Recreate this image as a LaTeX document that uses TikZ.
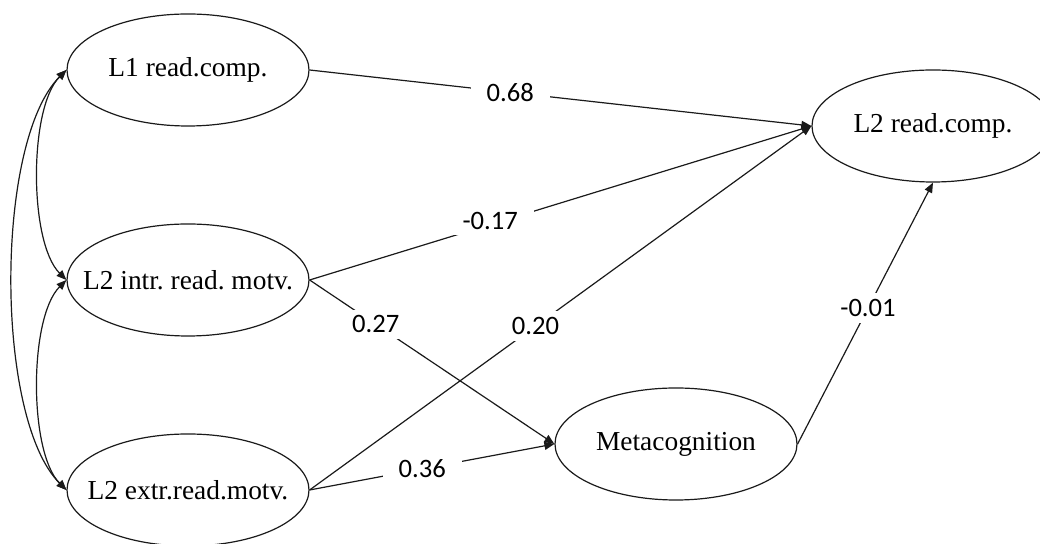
\documentclass[tikz,border=0pt]{standalone}
\usepackage{fontspec}
\setmainfont{Liberation Serif}
\newfontfamily\coeffont{Carlito}
\usetikzlibrary{arrows.meta,shapes.geometric}
\frenchspacing
\definecolor{ink}{HTML}{1A1A1A}
\tikzset{
  latent/.style ={ellipse, draw=ink, fill=white, line width=0.6pt,
                  minimum width=121pt, minimum height=56pt, inner sep=0pt,
                  font=\fontsize{13.7}{16}\selectfont},
  patharr/.style={-{Triangle[length=5pt,width=4pt]}, line width=0.6pt, draw=ink},
  covarr/.style ={{Triangle[length=5pt,width=4pt]}-{Triangle[length=5pt,width=4pt]},
                  line width=0.6pt, draw=ink},
  coef/.style   ={font=\coeffont\fontsize{13.3}{16}\selectfont, fill=white,
                  inner xsep=8pt, inner ysep=3pt},
}
\newcommand{\vname}[1]{\makebox[0pt]{#1}}

\begin{document}
\begin{tikzpicture}[x=0.5pt,y=-0.5pt]
  \fill[white] (0,0) rectangle (1040,544);
  \useasboundingbox (0,0) rectangle (1040,544);

  \node[latent] (l1rc) at (188,70)  {\vname{L1 read.comp.}};
  \node[latent] (intr) at (188,280) {\vname{L2 intr. read. motv.}};
  \node[latent] (extr) at (188,490) {\vname{L2 extr.read.motv.}};
  \node[latent] (meta) at (676,444) {\vname{Metacognition}};
  \node[latent] (l2rc) at (933,126) {\vname{L2 read.comp.}};

  % correlations
  \draw[covarr] (l1rc.west) to[bend right=45,looseness=0.65] (intr.west);
  \draw[covarr] (intr.west) to[bend right=45,looseness=0.65] (extr.west);
  \draw[covarr] (l1rc.west) to[bend right=45,looseness=0.62] (extr.west);

  % paths
  \draw[patharr] (l1rc.east) -- node[coef,pos=0.40] {0.68} (l2rc.west);
  \draw[patharr] (intr.east) -- node[coef,pos=0.36,yshift=2pt] {-0.17} (l2rc.west);
  \draw[patharr] (extr.east) -- node[coef,pos=0.45] {0.20} (l2rc.west);
  \draw[patharr] (intr.east) -- node[coef,pos=0.27] {0.27} (meta.west);
  \draw[patharr] (extr.east) -- node[coef,pos=0.46] {0.36} (meta.west);
  \draw[patharr] (meta.east) -- node[coef,pos=0.52] {-0.01} (l2rc.south);
\end{tikzpicture}
\end{document}
